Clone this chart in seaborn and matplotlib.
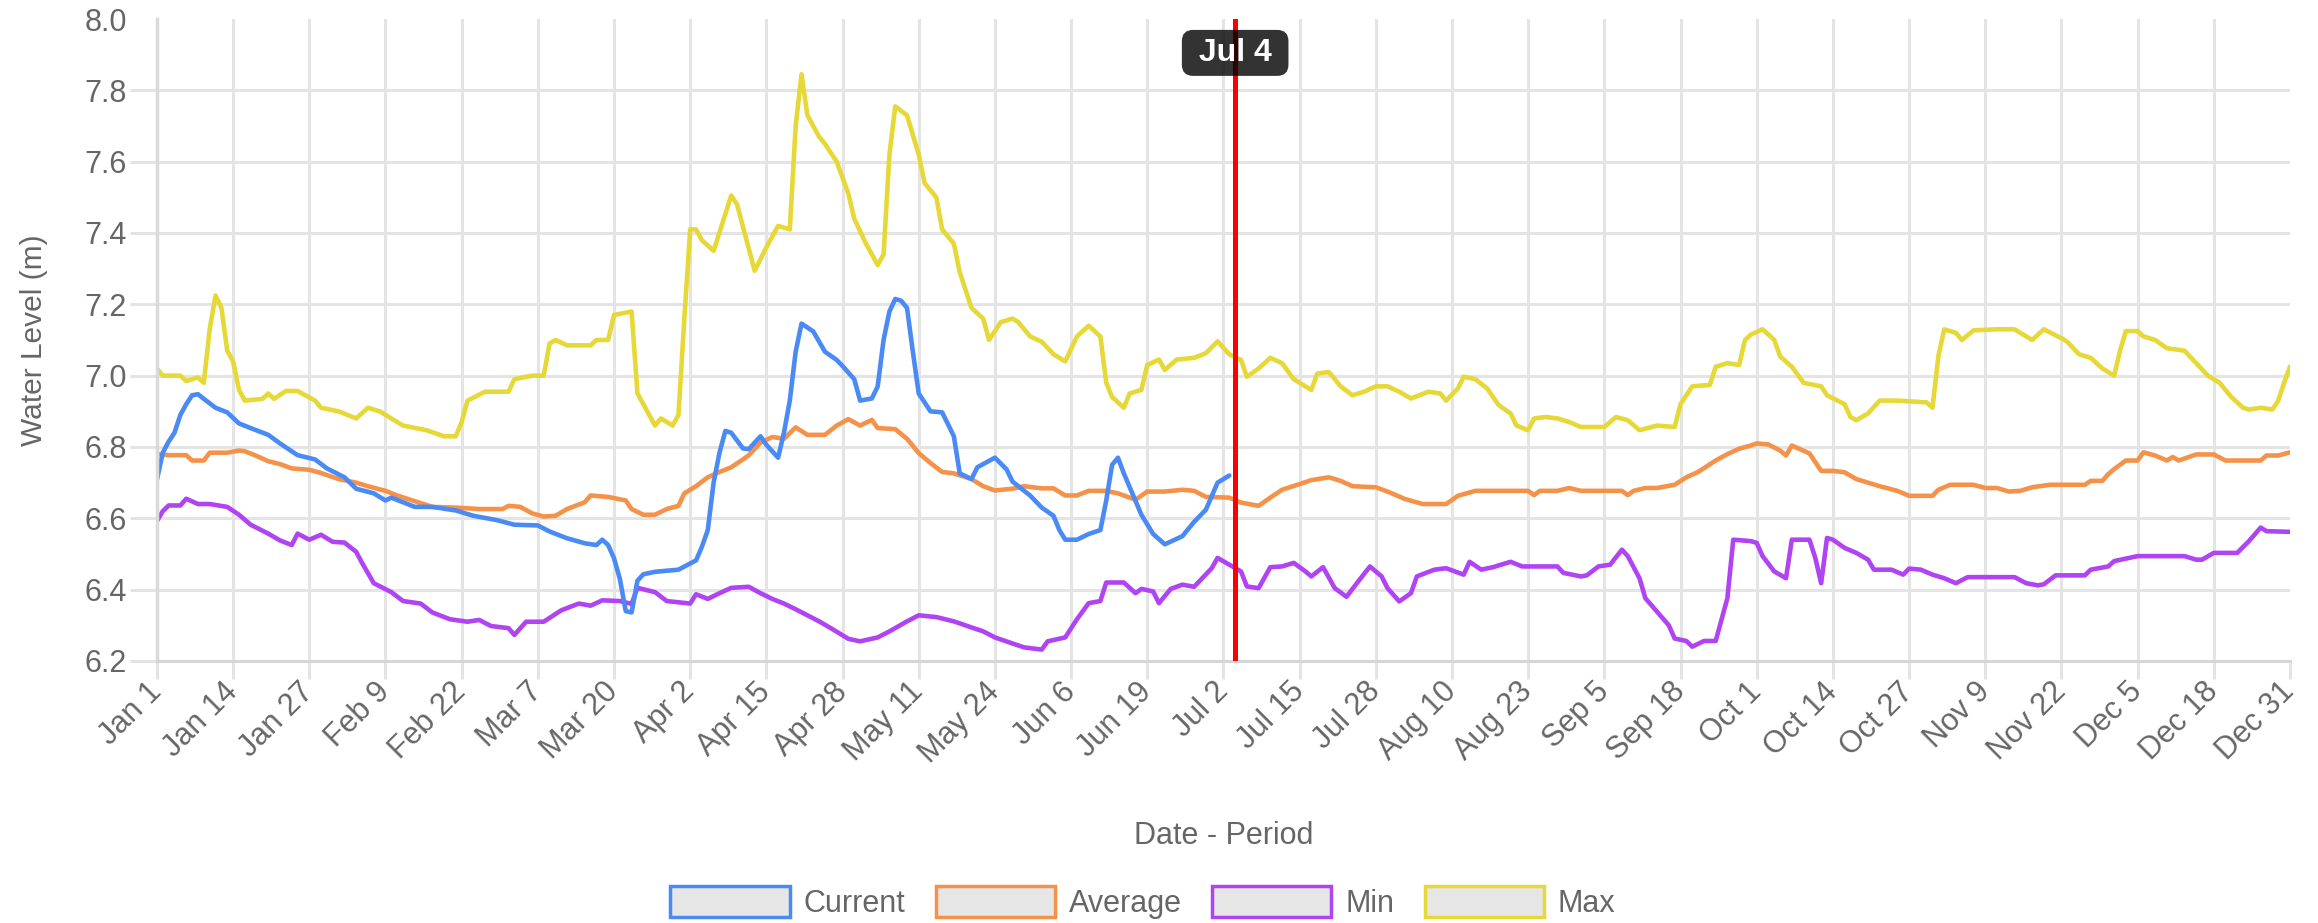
import matplotlib
matplotlib.use('Agg')
import matplotlib.pyplot as plt
from matplotlib.patches import Patch
import seaborn as sns

# x axis: day index from Jan 1 (0) to Dec 31 (364), label every 13 days
tick_labels = ['Jan 1', 'Jan 14', 'Jan 27', 'Feb 9', 'Feb 22', 'Mar 7', 'Mar 20',
               'Apr 2', 'Apr 15', 'Apr 28', 'May 11', 'May 24', 'Jun 6', 'Jun 19',
               'Jul 2', 'Jul 15', 'Jul 28', 'Aug 10', 'Aug 23', 'Sep 5', 'Sep 18',
               'Oct 1', 'Oct 14', 'Oct 27', 'Nov 9', 'Nov 22', 'Dec 5', 'Dec 18', 'Dec 31']
y_ticks = [6.2, 6.4, 6.6, 6.8, 7.0, 7.2, 7.4, 7.6, 7.8, 8.0]
marker_day = 184
marker_label = 'Jul 4'

current_days = [0, 1, 2, 3, 4, 5, 6, 7, 8, 10, 12, 14, 16, 19, 21, 24, 27, 29, 32, 34, 37, 39,
                40, 44, 47, 51, 54, 58, 61, 65, 67, 70, 73, 75, 76, 77, 78, 79, 80, 81, 82, 83,
                85, 89, 92, 93, 94, 95, 96, 97, 98, 100, 101, 103, 104, 106, 107, 108, 109, 110,
                112, 114, 116, 117, 119, 120, 122, 123, 124, 125, 126, 127, 128, 129, 130, 132,
                134, 136, 137, 139, 140, 143, 145, 146, 149, 151, 153, 154, 155, 157, 159, 161,
                162, 163, 164, 165, 168, 170, 172, 175, 177, 179, 181, 183]
current_vals = [6.708, 6.784, 6.815, 6.84, 6.89, 6.92, 6.945, 6.948, 6.935, 6.91, 6.897, 6.866,
                6.853, 6.834, 6.81, 6.777, 6.765, 6.74, 6.715, 6.683, 6.67, 6.65, 6.658, 6.632,
                6.632, 6.622, 6.607, 6.595, 6.582, 6.58, 6.563, 6.544, 6.53, 6.525, 6.54, 6.525,
                6.488, 6.43, 6.34, 6.336, 6.425, 6.443, 6.45, 6.456, 6.482, 6.52, 6.567, 6.70,
                6.784, 6.845, 6.84, 6.796, 6.794, 6.83, 6.806, 6.77, 6.84, 6.93, 7.067, 7.146,
                7.124, 7.067, 7.044, 7.027, 6.99, 6.93, 6.936, 6.97, 7.10, 7.18, 7.215, 7.21,
                7.19, 7.067, 6.95, 6.90, 6.897, 6.83, 6.726, 6.71, 6.743, 6.77, 6.737, 6.703,
                6.664, 6.63, 6.607, 6.567, 6.54, 6.54, 6.556, 6.567, 6.65, 6.75, 6.77, 6.726,
                6.61, 6.556, 6.527, 6.55, 6.59, 6.624, 6.70, 6.72]

average_days = [0, 2, 5, 6, 8, 9, 12, 14, 15, 17, 19, 21, 23, 26, 28, 31, 34, 36, 39, 41, 44, 47,
                51, 55, 59, 60, 62, 64, 66, 68, 70, 73, 74, 77, 80, 81, 83, 85, 87, 89, 90, 92,
                94, 96, 98, 100, 101, 103, 105, 107, 109, 111, 114, 116, 118, 120, 122, 123, 126,
                128, 130, 132, 134, 136, 139, 141, 143, 146, 148, 151, 153, 155, 157, 159, 162,
                164, 167, 169, 172, 175, 177, 179, 183, 185, 188, 190, 192, 195, 197, 200, 202,
                204, 208, 210, 213, 216, 220, 222, 225, 234, 235, 236, 239, 241, 243, 250, 251,
                252, 254, 256, 259, 261, 263, 266, 268, 270, 272, 273, 275, 277, 278, 279, 282,
                284, 286, 288, 290, 294, 297, 299, 303, 304, 306, 310, 312, 314, 316, 318, 320,
                323, 329, 330, 332, 333, 334, 336, 338, 339, 341, 343, 344, 345, 348, 351, 353,
                359, 360, 362, 364]
average_vals = [6.78, 6.777, 6.777, 6.762, 6.762, 6.784, 6.784, 6.79, 6.788, 6.775, 6.76, 6.752,
                6.74, 6.736, 6.727, 6.71, 6.70, 6.69, 6.677, 6.664, 6.648, 6.632, 6.63, 6.626,
                6.626, 6.635, 6.632, 6.614, 6.605, 6.607, 6.626, 6.645, 6.664, 6.66, 6.65, 6.626,
                6.61, 6.61, 6.626, 6.635, 6.67, 6.69, 6.715, 6.73, 6.743, 6.765, 6.777, 6.812,
                6.828, 6.823, 6.855, 6.834, 6.834, 6.86, 6.878, 6.86, 6.876, 6.853, 6.85, 6.823,
                6.783, 6.755, 6.73, 6.726, 6.71, 6.69, 6.678, 6.683, 6.69, 6.684, 6.684, 6.664,
                6.664, 6.677, 6.677, 6.67, 6.652, 6.675, 6.675, 6.68, 6.677, 6.66, 6.658, 6.644,
                6.635, 6.658, 6.68, 6.696, 6.707, 6.715, 6.705, 6.69, 6.687, 6.675, 6.654, 6.64,
                6.64, 6.663, 6.677, 6.677, 6.665, 6.677, 6.677, 6.685, 6.677, 6.677, 6.665, 6.677,
                6.685, 6.685, 6.694, 6.715, 6.73, 6.762, 6.78, 6.795, 6.804, 6.81, 6.807, 6.79,
                6.776, 6.804, 6.782, 6.733, 6.733, 6.729, 6.71, 6.69, 6.677, 6.663, 6.663, 6.68,
                6.694, 6.694, 6.685, 6.685, 6.675, 6.677, 6.687, 6.694, 6.694, 6.705, 6.705, 6.724,
                6.738, 6.762, 6.762, 6.785, 6.776, 6.762, 6.772, 6.762, 6.779, 6.779, 6.762, 6.762,
                6.776, 6.776, 6.785]

min_days = [0, 1, 2, 4, 5, 7, 9, 12, 14, 16, 19, 21, 23, 24, 26, 28, 30, 32, 34, 35, 37, 40, 42,
            45, 47, 50, 53, 55, 57, 60, 61, 63, 66, 69, 72, 74, 76, 79, 81, 82, 85, 87, 91, 92,
            94, 96, 98, 101, 103, 105, 107, 109, 111, 113, 115, 118, 120, 123, 125, 128, 130,
            133, 136, 139, 141, 143, 146, 148, 151, 152, 155, 157, 159, 161, 162, 165, 167, 168,
            170, 171, 173, 175, 177, 180, 181, 183, 185, 186, 188, 190, 192, 194, 196, 197, 199,
            201, 203, 205, 207, 209, 210, 212, 214, 215, 218, 220, 223, 224, 226, 228, 231, 233,
            239, 240, 243, 244, 246, 248, 250, 251, 253, 254, 256, 258, 259, 261, 262, 264, 266,
            268, 269, 272, 273, 274, 276, 278, 279, 282, 283, 284, 285, 286, 288, 290, 292, 293,
            296, 298, 299, 301, 303, 305, 307, 309, 317, 319, 321, 322, 324, 329, 330, 333, 334,
            336, 338, 346, 348, 349, 351, 355, 357, 359, 360, 364]
min_vals = [6.592, 6.62, 6.636, 6.636, 6.655, 6.64, 6.64, 6.632, 6.61, 6.582, 6.557, 6.538, 6.525,
            6.557, 6.54, 6.554, 6.534, 6.532, 6.506, 6.475, 6.418, 6.393, 6.368, 6.361, 6.336,
            6.317, 6.31, 6.315, 6.298, 6.292, 6.273, 6.31, 6.31, 6.342, 6.361, 6.355, 6.37, 6.368,
            6.36, 6.405, 6.393, 6.368, 6.361, 6.387, 6.374, 6.39, 6.405, 6.408, 6.39, 6.374,
            6.361, 6.345, 6.328, 6.311, 6.292, 6.262, 6.255, 6.266, 6.283, 6.311, 6.328, 6.323,
            6.311, 6.294, 6.283, 6.266, 6.249, 6.238, 6.232, 6.255, 6.266, 6.317, 6.362, 6.368,
            6.42, 6.42, 6.39, 6.402, 6.395, 6.362, 6.402, 6.414, 6.408, 6.46, 6.489, 6.47, 6.451,
            6.409, 6.404, 6.463, 6.465, 6.475, 6.451, 6.437, 6.463, 6.404, 6.38, 6.423, 6.465,
            6.437, 6.404, 6.367, 6.39, 6.437, 6.456, 6.46, 6.442, 6.478, 6.456, 6.463, 6.478,
            6.465, 6.465, 6.447, 6.437, 6.44, 6.465, 6.47, 6.512, 6.494, 6.432, 6.376, 6.338, 6.30,
            6.263, 6.256, 6.24, 6.256, 6.256, 6.376, 6.54, 6.536, 6.531, 6.494, 6.451, 6.432, 6.54,
            6.54, 6.489, 6.418, 6.545, 6.54, 6.517, 6.503, 6.484, 6.456, 6.456, 6.442, 6.459,
            6.456, 6.442, 6.432, 6.418, 6.435, 6.435, 6.418, 6.412, 6.415, 6.44, 6.44, 6.456,
            6.465, 6.48, 6.487, 6.494, 6.494, 6.484, 6.484, 6.503, 6.503, 6.536, 6.574, 6.564,
            6.562]

max_days = [0, 1, 4, 5, 7, 8, 9, 10, 11, 12, 13, 14, 15, 18, 19, 20, 22, 24, 27, 28, 31, 34, 36,
            38, 40, 42, 46, 49, 51, 52, 53, 56, 60, 61, 64, 66, 67, 68, 70, 74, 75, 77, 78, 81,
            82, 83, 85, 86, 88, 89, 90, 91, 92, 93, 95, 98, 99, 102, 104, 106, 108, 109, 110, 111,
            113, 114, 116, 118, 119, 121, 123, 124, 125, 126, 128, 130, 131, 133, 134, 136, 137,
            139, 141, 142, 144, 146, 147, 149, 151, 153, 155, 157, 159, 161, 162, 163, 165, 166,
            168, 169, 171, 172, 174, 177, 179, 181, 183, 185, 186, 188, 190, 192, 194, 197, 198,
            200, 202, 204, 206, 208, 210, 212, 214, 217, 219, 220, 222, 223, 225, 227, 229, 231,
            232, 234, 235, 237, 239, 241, 243, 247, 249, 251, 253, 256, 259, 260, 262, 265, 266,
            268, 270, 271, 272, 274, 276, 277, 279, 281, 284, 285, 288, 289, 290, 292, 294, 297,
            300, 302, 303, 304, 305, 307, 308, 310, 314, 317, 320, 322, 325, 326, 328, 330, 332,
            334, 335, 336, 338, 339, 341, 343, 346, 348, 350, 352, 354, 356, 357, 359, 361, 362,
            363, 364]
max_vals = [7.02, 7.00, 7.00, 6.985, 6.995, 6.98, 7.13, 7.225, 7.19, 7.07, 7.04, 6.96, 6.93, 6.935,
            6.95, 6.935, 6.957, 6.957, 6.93, 6.91, 6.90, 6.88, 6.91, 6.90, 6.88, 6.86, 6.847, 6.83,
            6.83, 6.87, 6.93, 6.955, 6.955, 6.99, 7.0, 7.0, 7.09, 7.10, 7.085, 7.085, 7.10, 7.10,
            7.17, 7.18, 6.95, 6.92, 6.86, 6.88, 6.86, 6.89, 7.16, 7.41, 7.41, 7.38, 7.35, 7.505,
            7.48, 7.294, 7.36, 7.42, 7.41, 7.70, 7.845, 7.73, 7.67, 7.65, 7.60, 7.51, 7.44, 7.37,
            7.31, 7.34, 7.62, 7.755, 7.73, 7.62, 7.54, 7.50, 7.41, 7.37, 7.29, 7.19, 7.16, 7.10,
            7.15, 7.16, 7.15, 7.11, 7.095, 7.06, 7.04, 7.11, 7.14, 7.11, 6.98, 6.94, 6.91, 6.95,
            6.96, 7.03, 7.045, 7.016, 7.045, 7.05, 7.063, 7.096, 7.06, 7.044, 6.997, 7.02, 7.05,
            7.035, 6.99, 6.96, 7.006, 7.01, 6.97, 6.945, 6.955, 6.97, 6.97, 6.955, 6.936, 6.955,
            6.95, 6.93, 6.964, 6.997, 6.99, 6.964, 6.917, 6.894, 6.86, 6.847, 6.88, 6.884, 6.88,
            6.87, 6.856, 6.856, 6.884, 6.875, 6.847, 6.86, 6.856, 6.92, 6.97, 6.974, 7.025, 7.035,
            7.03, 7.10, 7.115, 7.13, 7.10, 7.054, 7.025, 6.98, 6.97, 6.945, 6.92, 6.884, 6.875,
            6.894, 6.93, 6.93, 6.927, 6.925, 6.91, 7.054, 7.13, 7.12, 7.10, 7.127, 7.13, 7.13,
            7.10, 7.13, 7.105, 7.095, 7.06, 7.05, 7.02, 7.0, 7.07, 7.125, 7.125, 7.11, 7.10, 7.077,
            7.07, 7.035, 7.0, 6.98, 6.94, 6.91, 6.905, 6.91, 6.905, 6.93, 6.98, 7.025]

colors = {'Current': '#4a8af4', 'Average': '#f5924a', 'Min': '#b044f2', 'Max': '#e6d836'}
grid_color = '#e4e4e4'
text_color = '#666666'

sns.set_theme(style='whitegrid')
plt.rcParams['font.family'] = ['Liberation Sans', 'DejaVu Sans']

fig = plt.figure(figsize=(23.18, 9.23), dpi=100)
ax = fig.add_axes([0.0677, 0.2839, 0.9202, 0.6955])

# draw order: first dataset ends up on top
sns.lineplot(x=max_days, y=max_vals, ax=ax, color=colors['Max'], linewidth=3.3, legend=False)
sns.lineplot(x=min_days, y=min_vals, ax=ax, color=colors['Min'], linewidth=3.3, legend=False)
sns.lineplot(x=average_days, y=average_vals, ax=ax, color=colors['Average'], linewidth=3.3, legend=False)
sns.lineplot(x=current_days, y=current_vals, ax=ax, color=colors['Current'], linewidth=3.3, legend=False)

ax.set_xlim(0, 364)
ax.set_ylim(6.2, 8.0)
ax.set_xticks(range(0, 365, 13))
ax.set_xticklabels(tick_labels, rotation=45, ha='right', va='center',
                   rotation_mode='anchor', fontsize=22, color=text_color)
ax.set_yticks(y_ticks)
ax.set_yticklabels(['%.1f' % v for v in y_ticks], fontsize=22, color=text_color)

ax.grid(True, color=grid_color, linewidth=2.2)
ax.tick_params(axis='x', bottom=True, length=13, width=2.2, color=grid_color, pad=6)
ax.tick_params(axis='y', left=True, length=19.5, width=2.2, color=grid_color, pad=2)
# no line along the top (8.0) and none at the right edge
top_tick = ax.yaxis.get_major_ticks()[-1]
top_tick.gridline.set_visible(False)
top_tick.tick1line.set_visible(False)
ax.xaxis.get_major_ticks()[-1].gridline.set_visible(False)
for side in ['top', 'right']:
    ax.spines[side].set_visible(False)
ax.spines['bottom'].set_color('#d6d6d6')
ax.spines['bottom'].set_linewidth(2.2)
ax.spines['left'].set_color('#dadada')
ax.spines['left'].set_linewidth(2.5)

ax.set_ylabel('Water Level (m)', fontsize=21.5, color=text_color)
ax.yaxis.set_label_coords(-0.0511, 0.5)
ax.set_xlabel('Date - Period', fontsize=22, color=text_color)
ax.xaxis.set_label_coords(0.5, -0.25)

# hover marker line and tooltip
ax.axvline(marker_day, color='#ff0000', linewidth=3.6, zorder=5)
ax.text(marker_day, 7.905, ' ' + marker_label + ' ', ha='center', va='center', color='white',
        fontsize=23, fontweight='bold', zorder=10,
        bbox=dict(boxstyle='round,pad=0.25,rounding_size=0.35', fc=(0, 0, 0, 0.8), ec='none'))

handles = [Patch(facecolor='#e6e6e6', edgecolor=colors[k], linewidth=2.5) for k in colors]
fig.legend(handles, list(colors.keys()), loc='center', bbox_to_anchor=(0.493, 0.022),
           ncol=4, frameon=False, fontsize=22, labelcolor=text_color,
           handlelength=3.9, handleheight=1.15, handletextpad=0.45, columnspacing=1.0)

fig.savefig('out.png', dpi=100)
